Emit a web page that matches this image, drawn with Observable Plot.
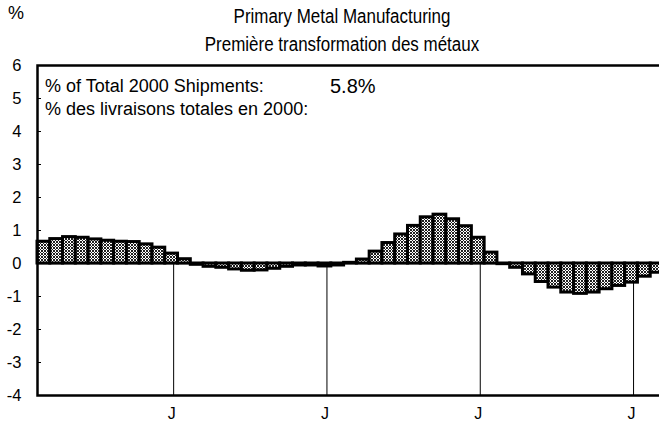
<!DOCTYPE html>
<html><head><meta charset="utf-8">
<script src="https://cdn.jsdelivr.net/npm/d3@7"></script>
<script src="https://cdn.jsdelivr.net/npm/@observablehq/plot@0.6"></script>
<style>
html,body{margin:0;padding:0;overflow:hidden;background:#fff;}
#wrap{position:relative;width:659px;height:430px;overflow:hidden;font-family:"Liberation Sans",Arial,Helvetica,sans-serif;color:#000;}
.t{position:absolute;white-space:nowrap;line-height:1;}
.title{transform:translateX(-50%) scaleX(0.87);transform-origin:center;font-size:19.5px;}
</style></head><body>
<div id="wrap">
  <div id="chart" style="position:absolute;left:0;top:50px;"></div>
  <div class="t" style="left:8px;top:4px;font-size:18px;">%</div>
  <div class="t title" style="left:342px;top:7px;">Primary Metal Manufacturing</div>
  <div class="t title" style="left:342px;top:35px;">Première transformation des métaux</div>
  <div class="t" style="left:45px;top:77px;font-size:18px;">% of Total 2000 Shipments:</div>
  <div class="t" style="left:330px;top:76px;font-size:20px;">5.8%</div>
  <div class="t" style="left:45px;top:100px;font-size:18px;">% des livraisons totales en 2000:</div>
</div>
<script>
// Months shown (first bar = March), one bar per month
const months = ["Mar","Apr","May","Jun","Jul","Aug","Sep","Oct","Nov","Dec","Jan","Feb",
  "Mar","Apr","May","Jun","Jul","Aug","Sep","Oct","Nov","Dec","Jan","Feb",
  "Mar","Apr","May","Jun","Jul","Aug","Sep","Oct","Nov","Dec","Jan","Feb",
  "Mar","Apr","May","Jun","Jul","Aug","Sep","Oct","Nov","Dec","Jan","Feb","Mar"];
const values = [0.66,0.74,0.80,0.78,0.73,0.69,0.66,0.65,0.58,0.48,0.30,0.13,
  -0.04,-0.10,-0.13,-0.18,-0.22,-0.21,-0.16,-0.10,-0.06,-0.06,-0.09,-0.06,
  0.02,0.12,0.36,0.62,0.88,1.14,1.40,1.48,1.34,1.13,0.78,0.33,
  -0.02,-0.13,-0.33,-0.56,-0.73,-0.88,-0.92,-0.88,-0.78,-0.68,-0.58,-0.40,-0.28];
const yTicks = [-4,-3,-2,-1,0,1,2,3,4,5,6];
const januaryIdx = [10,22,34,46];
const xTickLabels = ["J","J","J","J"];

const data = values.map((v, i) => ({i, month: months[i], v}));
const idx = d3.range(values.length);

const chart = Plot.plot({
  width: 659,
  height: 380,
  marginLeft: 37,
  marginRight: -4,
  marginTop: 15,
  marginBottom: 35,
  style: {fontFamily: '"Liberation Sans", Arial, sans-serif', fontSize: "16px", color: "#000", background: "transparent"},
  x: {type: "band", domain: idx, padding: 0, label: null},
  y: {domain: [-4, 6], label: null},
  marks: [
    Plot.ruleX(januaryIdx, {x: d => d, y1: -4, y2: 0, stroke: "black", strokeWidth: 1, dx: 2}),
    Plot.ruleY([0], {stroke: "black", strokeWidth: 1.5}),
    Plot.barY(data, {x: "i", y: "v", fill: "url(#stipple)", stroke: "black", strokeWidth: 3}),
    Plot.frame({stroke: "black", strokeWidth: 2.5}),
    Plot.axisY(yTicks, {tickSize: 4, dx: 4, text: null, stroke: "black", label: null}),
    Plot.axisY(yTicks, {tickSize: 0, tickPadding: 16, tickFormat: d => String(d), fontSize: 16.5, label: null}),
    Plot.axisX(januaryIdx, {tickSize: 0, tickPadding: 12, tickFormat: (d, k) => xTickLabels[k], fontSize: 16, label: null})
  ]
});

// stipple pattern for the bar fill
const svg = d3.select(chart);
const defs = svg.insert("defs", ":first-child");
const pat = defs.append("pattern").attr("id", "stipple").attr("patternUnits", "userSpaceOnUse")
  .attr("width", 3).attr("height", 3);
pat.append("rect").attr("width", 3).attr("height", 3).attr("fill", "#ffffff");
[[0,0],[2,0],[1,1],[0,2],[2,2]].forEach(([px,py]) =>
  pat.append("rect").attr("x", px).attr("y", py).attr("width", 1).attr("height", 1).attr("fill", "#222"));
document.getElementById("chart").appendChild(chart);
</script>
</body></html>
